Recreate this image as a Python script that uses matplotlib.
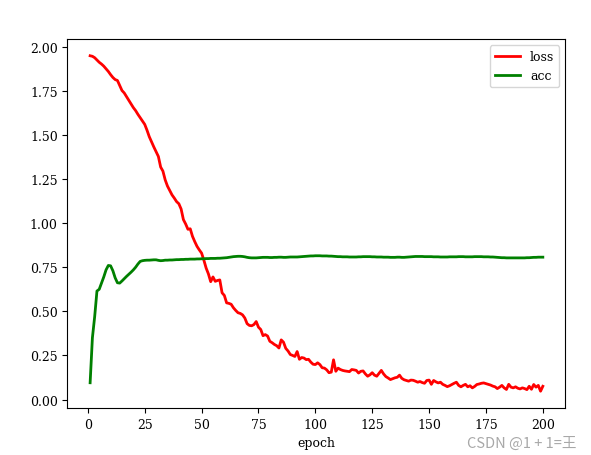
import matplotlib
matplotlib.use("Agg")
import matplotlib.pyplot as plt

# training history (200 epochs)
loss = [
    1.949, 1.946, 1.938, 1.925, 1.912, 1.902, 1.890, 1.875, 1.860, 1.842,
    1.826, 1.814, 1.809, 1.780, 1.752, 1.738, 1.717, 1.695, 1.676, 1.655,
    1.638, 1.617, 1.598, 1.580, 1.560, 1.527, 1.490, 1.461, 1.432, 1.405,
    1.378, 1.318, 1.295, 1.245, 1.210, 1.185, 1.160, 1.142, 1.122, 1.110,
    1.080, 1.020, 0.995, 0.965, 0.968, 0.925, 0.895, 0.868, 0.848, 0.830,
    0.790, 0.745, 0.712, 0.668, 0.695, 0.670, 0.675, 0.678, 0.605, 0.590,
    0.548, 0.545, 0.540, 0.520, 0.505, 0.492, 0.488, 0.480, 0.462, 0.430,
    0.420, 0.418, 0.425, 0.442, 0.410, 0.397, 0.362, 0.368, 0.360, 0.330,
    0.322, 0.312, 0.305, 0.292, 0.338, 0.325, 0.290, 0.275, 0.255, 0.250,
    0.244, 0.272, 0.228, 0.238, 0.235, 0.226, 0.228, 0.212, 0.200, 0.198,
    0.208, 0.198, 0.180, 0.178, 0.168, 0.152, 0.155, 0.225, 0.160, 0.178,
    0.170, 0.165, 0.162, 0.160, 0.158, 0.170, 0.168, 0.165, 0.150, 0.160,
    0.162, 0.145, 0.132, 0.140, 0.152, 0.138, 0.132, 0.148, 0.165, 0.145,
    0.130, 0.122, 0.113, 0.118, 0.123, 0.126, 0.138, 0.120, 0.112, 0.108,
    0.104, 0.110, 0.109, 0.104, 0.098, 0.102, 0.096, 0.092, 0.108, 0.110,
    0.086, 0.108, 0.100, 0.094, 0.098, 0.086, 0.080, 0.073, 0.078, 0.085,
    0.092, 0.098, 0.080, 0.072, 0.080, 0.086, 0.072, 0.078, 0.066, 0.074,
    0.085, 0.088, 0.092, 0.094, 0.090, 0.086, 0.082, 0.076, 0.072, 0.062,
    0.070, 0.080, 0.066, 0.057, 0.086, 0.070, 0.066, 0.072, 0.064, 0.060,
    0.066, 0.062, 0.056, 0.075, 0.058, 0.085, 0.070, 0.080, 0.047, 0.075,
]
acc = [
    0.095, 0.350, 0.470, 0.615, 0.625, 0.660, 0.695, 0.735, 0.760, 0.758,
    0.730, 0.690, 0.662, 0.660, 0.672, 0.685, 0.698, 0.710, 0.722, 0.735,
    0.750, 0.768, 0.783, 0.787, 0.789, 0.790, 0.790, 0.791, 0.792, 0.792,
    0.789, 0.787, 0.788, 0.790, 0.790, 0.791, 0.791, 0.792, 0.793, 0.793,
    0.794, 0.794, 0.795, 0.795, 0.796, 0.796, 0.796, 0.797, 0.797, 0.798,
    0.798, 0.799, 0.799, 0.800, 0.800, 0.800, 0.801, 0.801, 0.802, 0.803,
    0.804, 0.806, 0.808, 0.810, 0.811, 0.812, 0.812, 0.811, 0.809, 0.806,
    0.804, 0.803, 0.803, 0.803, 0.804, 0.805, 0.806, 0.806, 0.806, 0.805,
    0.805, 0.806, 0.806, 0.807, 0.807, 0.806, 0.806, 0.807, 0.808, 0.808,
    0.808, 0.808, 0.809, 0.810, 0.811, 0.812, 0.813, 0.814, 0.814, 0.815,
    0.815, 0.815, 0.814, 0.814, 0.814, 0.813, 0.813, 0.812, 0.811, 0.810,
    0.810, 0.809, 0.809, 0.809, 0.808, 0.808, 0.808, 0.808, 0.809, 0.809,
    0.810, 0.810, 0.810, 0.810, 0.809, 0.809, 0.808, 0.808, 0.808, 0.807,
    0.807, 0.807, 0.806, 0.806, 0.806, 0.807, 0.807, 0.806, 0.806, 0.807,
    0.808, 0.809, 0.810, 0.811, 0.811, 0.811, 0.811, 0.810, 0.810, 0.810,
    0.810, 0.809, 0.809, 0.809, 0.808, 0.808, 0.808, 0.808, 0.809, 0.809,
    0.809, 0.809, 0.810, 0.810, 0.810, 0.809, 0.809, 0.809, 0.809, 0.810,
    0.810, 0.810, 0.810, 0.809, 0.809, 0.809, 0.808, 0.808, 0.807, 0.806,
    0.805, 0.804, 0.804, 0.803, 0.803, 0.803, 0.803, 0.803, 0.803, 0.803,
    0.803, 0.803, 0.804, 0.804, 0.805, 0.806, 0.806, 0.807, 0.807, 0.807,
]
epochs = list(range(1, len(loss) + 1))

plt.rcParams['font.family'] = ['DejaVu Serif']

fig = plt.figure(figsize=(5.91, 4.56), dpi=100)
ax = fig.add_axes([0.1142, 0.1031, 0.8426, 0.8092])

ax.plot(epochs, loss, color='red', linewidth=2, label='loss')
ax.plot(epochs, acc, color='green', linewidth=2, label='acc')
ax.tick_params(labelsize=9)
ax.set_xlabel('epoch', fontsize=9)
ax.legend(loc='upper right', fontsize=9)

# watermark of the source site
fig.text(0.975, 0.012, 'CSDN @1 + 1=王', color='#a8a8a8', fontsize=10.5,
         ha='right', va='bottom', family=['Noto Sans CJK SC', 'DejaVu Sans'])

fig.savefig('out.png', dpi=100)
